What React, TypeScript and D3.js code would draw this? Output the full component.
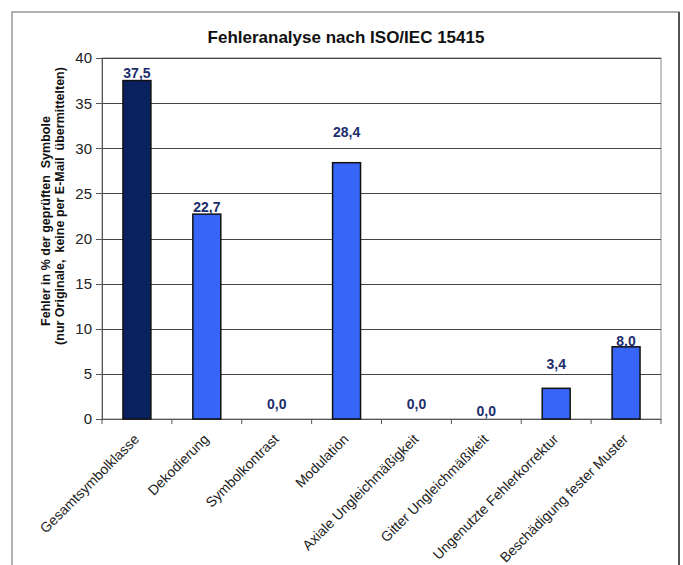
import React from "react";
import * as d3 from "d3";

const categories = [
  "Gesamtsymbolklasse",
  "Dekodierung",
  "Symbolkontrast",
  "Modulation",
  "Axiale Ungleichmäßigkeit",
  "Gitter Ungleichmäßikeit",
  "Ungenutzte Fehlerkorrektur",
  "Beschädigung fester Muster",
];
const values = [37.5, 22.7, 0.0, 28.4, 0.0, 0.0, 3.4, 8.0];
// label anchor heights (in value units) as placed in the original
const labelAt = [38.3, 23.5, 1.7, 31.8, 1.7, 0.9, 6.1, 8.7];
const yTicks = [0, 5, 10, 15, 20, 25, 30, 35, 40];
const title = "Fehleranalyse nach ISO/IEC 15415";
const yTitle1 = "Fehler in % der geprüften  Symbole";
const yTitle2 = "(nur Originale,  keine per E-Mail  übermittelten)";

const W = 683;
const H = 565;
const left = 102;
const right = 661;
const top = 58;
const bottom = 419;

export default function App() {
  const x = d3.scaleBand<string>().domain(categories).range([left, right]).paddingInner(0.6).paddingOuter(0.3);
  const xb = d3.scaleBand<string>().domain(categories).range([left, right]);
  const y = d3.scaleLinear().domain([0, 40]).range([bottom, top]);
  const font = "'Liberation Sans', Arial, sans-serif";
  const fmt = (v: number) => v.toFixed(1).replace(".", ",");
  return (
    <svg width={W} height={H} style={{ position: "absolute", left: 0, top: 0, background: "#fff" }} fontFamily={font}>
      <rect x={12} y={12} width={667} height={H} fill="#fff" stroke="#999" strokeWidth={1.5} />
      <line x1={679} y1={12} x2={679} y2={H} stroke="#333" strokeWidth={1.5} />
      <text x={346} y={43} textAnchor="middle" fontWeight="bold" fontSize={17} fill="#111">{title}</text>
      {/* plot border */}
      <rect x={left} y={top} width={right - left} height={bottom - top} fill="#fff" stroke="#8a8a8a" strokeWidth={1} />
      {yTicks.filter((t) => t > 0).map((t) => (
        <line key={"g" + t} x1={left} x2={right} y1={Math.round(y(t)) + 0.5} y2={Math.round(y(t)) + 0.5} stroke="#444" strokeWidth={1} />
      ))}
      {/* y axis */}
      <line x1={left + 0.5} x2={left + 0.5} y1={top} y2={bottom} stroke="#555" strokeWidth={1} />
      {yTicks.map((t) => (
        <g key={"t" + t}>
          <line x1={left - 6} x2={left} y1={Math.round(y(t)) + 0.5} y2={Math.round(y(t)) + 0.5} stroke="#555" />
          <text x={92} y={y(t)} dy="0.36em" textAnchor="end" fontSize={15} fill="#222">{t}</text>
        </g>
      ))}
      {/* x axis */}
      <line x1={left} x2={right} y1={bottom + 0.5} y2={bottom + 0.5} stroke="#555" strokeWidth={1} />
      {categories.map((c, i) => (
        <line key={"xt" + i} x1={xb(c)!} x2={xb(c)!} y1={bottom} y2={bottom + 5} stroke="#555" />
      ))}
      <line x1={right} x2={right} y1={bottom} y2={bottom + 5} stroke="#555" />
      {/* bars */}
      {categories.map((c, i) => (
        <rect key={"b" + i} x={x(c)!} y={y(values[i])} width={x.bandwidth()} height={bottom - y(values[i])}
          fill={i === 0 ? "#0a2160" : "#3766f7"} stroke="#111" strokeWidth={1.5} />
      ))}
      {categories.map((c, i) => (
        <text key={"v" + i} x={x(c)! + x.bandwidth() / 2} y={y(labelAt[i])} dy="0.36em" textAnchor="middle"
          fontWeight="bold" fontSize={14} fill="#1c2d6b">{fmt(values[i])}</text>
      ))}
      {categories.map((c, i) => {
        const cx = xb(c)! + xb.bandwidth() / 2 + 3;
        const cy = 440;
        return (
          <text key={"xl" + i} transform={`translate(${cx},${cy}) rotate(-45)`} textAnchor="end" fontSize={14} fill="#222">{c}</text>
        );
      })}
      <text transform={`translate(50,221) rotate(-90)`} textAnchor="middle" fontWeight="bold" fontSize={12.5} fill="#111" style={{ whiteSpace: "pre" }}>{yTitle1}</text>
      <text transform={`translate(64,206) rotate(-90)`} textAnchor="middle" fontWeight="bold" fontSize={12.5} fill="#111" style={{ whiteSpace: "pre" }}>{yTitle2}</text>
    </svg>
  );
}
